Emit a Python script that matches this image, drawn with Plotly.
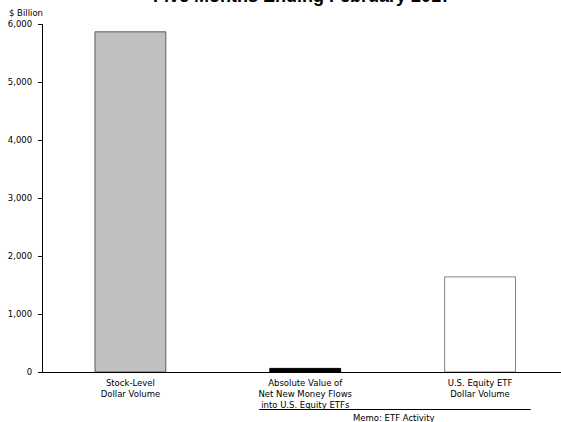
import plotly.graph_objects as go

categories = ["Stock-Level<br>Dollar Volume",
              "Absolute Value of<br>Net New Money Flows<br>into U.S. Equity ETFs",
              "U.S. Equity ETF<br>Dollar Volume"]
values = [5865, 62, 1640]
fill_colors = ["#C0C0C0", "#000000", "#FFFFFF"]
line_colors = ["#5A5A5A", "#000000", "#808080"]
y_ticks = [0, 1000, 2000, 3000, 4000, 5000, 6000]
y_tick_labels = ["0", "1,000", "2,000", "3,000", "4,000", "5,000", "6,000"]
title_text = "Five Months Ending February 2017"
y_unit = "$ Billion"
memo_text = "Memo: ETF Activity"

x_pos = list(range(len(categories)))
font_family = "DejaVu Sans"

fig = go.Figure(go.Bar(
    x=x_pos, y=values, width=0.405,
    marker=dict(color=fill_colors, line=dict(color=line_colors, width=1)),
    showlegend=False, hoverinfo="skip",
))

fig.update_layout(
    width=561, height=422,
    margin=dict(l=42.5, r=0, t=24, b=50),
    plot_bgcolor="white", paper_bgcolor="white",
    font=dict(family=font_family, size=8.5, color="black"),
    xaxis=dict(range=[-0.5, 2.463], tickvals=x_pos, ticktext=categories,
               showline=True, linecolor="black", linewidth=1.3,
               showgrid=False, zeroline=False, ticks="", tickfont=dict(size=8.5),
               ticklabelstandoff=3),
    yaxis=dict(range=[0, 6000], tickvals=y_ticks, ticktext=y_tick_labels,
               showline=True, linecolor="black", linewidth=1.3,
               showgrid=False, zeroline=False, ticks="outside", ticklen=4,
               tickcolor="black", tickwidth=1, ticklabelstandoff=4),
    annotations=[
        dict(text="<b>" + title_text + "</b>", xref="paper", yref="paper",
             x=(302 - 42.5) / 518.5, y=(372 - 8) / 348, xanchor="center", yanchor="bottom",
             showarrow=False, font=dict(family="Liberation Sans", size=18)),
        dict(text=y_unit, xref="paper", yref="paper",
             x=(6 - 42.5) / 518.5, y=(372 - 13) / 348, xanchor="left", yanchor="middle",
             showarrow=False, font=dict(size=8.5)),
        dict(text=memo_text, xref="x", yref="paper",
             x=1.509, y=(372 - 418) / 348, xanchor="center", yanchor="middle",
             showarrow=False, font=dict(size=8.5)),
    ],
    shapes=[
        dict(type="line", xref="x", yref="paper", x0=0.737, x1=2.29,
             y0=(372 - 409.5) / 348, y1=(372 - 409.5) / 348,
             line=dict(color="black", width=1.2)),
    ],
)

fig.write_html("out.html", config={"displayModeBar": False},
               post_script="document.body.style.margin='0';document.body.style.padding='0';")
